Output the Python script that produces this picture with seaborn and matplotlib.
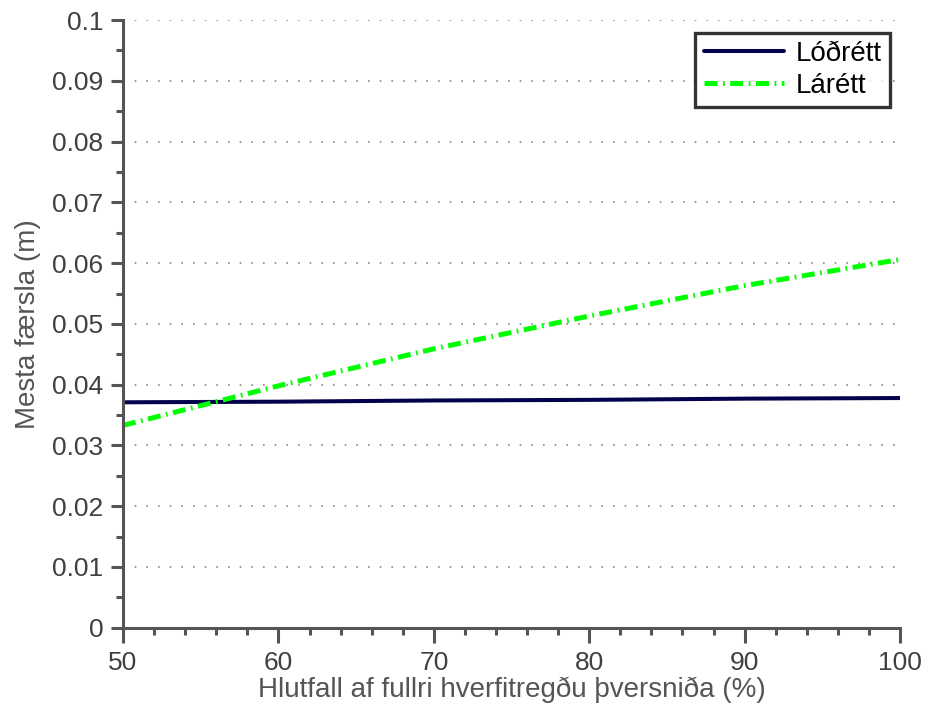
import matplotlib
matplotlib.use("Agg")
import matplotlib.pyplot as plt
import seaborn as sns
import pandas as pd
from matplotlib.ticker import MultipleLocator, FixedLocator

sns.set_theme(style="white")
plt.rcParams['font.family'] = ['Liberation Sans', 'DejaVu Sans']

x_pct = [50, 60, 70, 80, 90, 100]
lodrett = [0.0371, 0.0372, 0.0374, 0.0375, 0.0377, 0.0378]
larett = [0.0333, 0.0398, 0.0459, 0.0513, 0.0563, 0.0606]
series_names = ["Lóðrétt", "Lárétt"]
y_ticks = [0, 0.01, 0.02, 0.03, 0.04, 0.05, 0.06, 0.07, 0.08, 0.09, 0.1]
y_labels = ["0", "0.01", "0.02", "0.03", "0.04", "0.05", "0.06", "0.07", "0.08", "0.09", "0.1"]
x_ticks = [50, 60, 70, 80, 90, 100]

df1 = pd.DataFrame({"x": x_pct, "y": lodrett})
df2 = pd.DataFrame({"x": x_pct, "y": larett})

fig = plt.figure(figsize=(9.25, 7.15), dpi=100)
ax = fig.add_axes([0.133, 0.122, 0.840, 0.850])

gray = "#555555"

sns.lineplot(data=df1, x="x", y="y", ax=ax, color="#02024d", lw=2.9,
             label=series_names[0])
sns.lineplot(data=df2, x="x", y="y", ax=ax, color="#00ff00", lw=3.6,
             label=series_names[1])
ax.lines[1].set_dashes((2.6, 1.1, 0.35, 1.1))

ax.set_xlim(50, 100)
ax.set_ylim(0, 0.1)
ax.xaxis.set_major_locator(FixedLocator(x_ticks))
ax.xaxis.set_minor_locator(MultipleLocator(2))
ax.yaxis.set_major_locator(FixedLocator(y_ticks))
ax.set_yticklabels(y_labels)
ax.yaxis.set_minor_locator(MultipleLocator(0.005))

for s in ["top", "right"]:
    ax.spines[s].set_visible(False)
for s in ["left", "bottom"]:
    ax.spines[s].set_color(gray)
    ax.spines[s].set_linewidth(2.2)

ax.tick_params(axis="both", which="both", bottom=True, left=True, top=False, right=False)
ax.tick_params(axis="both", which="major", direction="out", length=9, width=2.2,
               color=gray, labelcolor="#404040", labelsize=19, pad=5)
ax.tick_params(axis="both", which="minor", direction="out", length=5, width=2.2,
               color=gray)
ax.tick_params(axis="x", which="major", length=11, pad=6)

ax.grid(axis="y", which="major", color="#888888", linestyle=(0, (1, 6)), lw=1.2)
ax.set_axisbelow(True)

ax.set_xlabel("Hlutfall af fullri hverfitregðu þversniða (%)", fontsize=20,
              color=gray, labelpad=1)
ax.set_ylabel("Mesta færsla (m)", fontsize=20, color=gray, labelpad=8)

leg = ax.legend(loc="upper right", bbox_to_anchor=(0.994, 0.988), fontsize=20,
                frameon=True, fancybox=False, handlelength=2.9, borderpad=0.3,
                labelspacing=0.2, handletextpad=0.4, borderaxespad=0.2)
leg.get_frame().set_edgecolor("black")
leg.get_frame().set_linewidth(2.4)
for t in leg.get_texts():
    t.set_color("black")

fig.savefig("out.png", dpi=100, facecolor="white")
